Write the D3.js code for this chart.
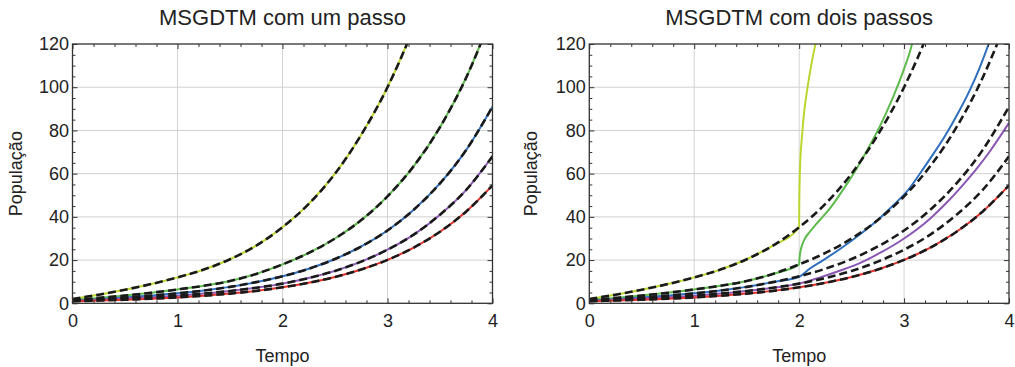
<!DOCTYPE html>
<html>
<head>
<meta charset="utf-8">
<script src="https://cdn.jsdelivr.net/npm/d3@7/dist/d3.min.js"></script>
<style>
  body { margin: 0; background: #fff; }
  text { font-family: "Liberation Sans", Arial, sans-serif; fill: #222; }
</style>
</head>
<body>
<svg id="chart" width="1015" height="367"></svg>
<script>
// tempo grid for the exact (dashed) solutions
var timeGrid = [0, 0.25, 0.5, 0.75, 1, 1.25, 1.5, 1.75, 2, 2.25, 2.5, 2.75, 3, 3.25, 3.5, 3.75, 4]

var exactYellow = [2, 4, 6.3, 8.9, 12, 15.6, 20.4, 26.7, 35.2, 46, 60, 78, 100, 128, 164, 210, 268]
var exactGreen  = [1.5, 2.5, 3.6, 4.9, 6.4, 8.1, 10.3, 13.6, 18, 23.3, 30, 38.5, 49.5, 63.5, 81.5, 104.5, 134]
var exactBlue   = [1.2, 1.9, 2.7, 3.6, 4.6, 5.9, 7.6, 9.8, 12.5, 16, 20.5, 26.3, 33.7, 43.3, 55.5, 71, 91]
var exactPurple = [1.1, 1.6, 2.2, 2.8, 3.5, 4.5, 5.7, 7.2, 9.1, 11.7, 15, 19.3, 24.8, 31.8, 41, 52.5, 68]
var exactRed    = [1, 1.28, 1.65, 2.12, 2.72, 3.49, 4.48, 5.75, 7.39, 9.49, 12.18, 15.64, 20.09, 25.79, 33.12, 42.52, 54.6]

// two-step MSGDTM, from t = 2 on (before that it follows the exact curve)
var twoStepYellow = [[2, 35.2], [2.001, 45], [2.004, 55], [2.011, 66], [2.025, 76], [2.04, 85], [2.065, 95], [2.09, 103], [2.12, 111.5], [2.16, 121]]
var twoStepGreen  = [[2, 18], [2.004, 21], [2.012, 24], [2.025, 26.5], [2.05, 29.5], [2.1, 33], [2.16, 36.5], [2.23, 40.3], [2.31, 45], [2.39, 50.5], [2.47, 56.3], [2.55, 62.5], [2.65, 71], [2.77, 82], [2.9, 96], [3.0, 108.5], [3.07, 119], [3.08, 121]]
var twoStepBlue   = [[2, 12.3], [2.1, 16], [2.23, 20], [2.4, 25.5], [2.55, 30.8], [2.77, 39.5], [2.9, 45.5], [3.04, 52.5], [3.2, 63.5], [3.41, 79], [3.52, 88.5], [3.63, 99], [3.72, 109], [3.81, 120.5]]
var twoStepPurple = [[2, 9.1], [2.2, 12], [2.4, 15.3], [2.55, 18], [2.77, 23.3], [3.0, 30], [3.25, 39.3], [3.4, 46.3], [3.57, 55.3], [3.7, 62.8], [3.82, 70.5], [4.0, 83.5]]

var xTicks = [0, 1, 2, 3, 4]
var yTicks = [0, 20, 40, 60, 80, 100, 120]

var colors = {yellow: "#bcd62e", green: "#5dba4c", blue: "#2f6fbd", purple: "#8a58b4", red: "#e3302a"}

var titles = ["MSGDTM com um passo", "MSGDTM com dois passos"]

function pairs(vals){
    return timeGrid.map(function(t, i){ return [t, vals[i]] })
}

function joined(vals, tail){
    // exact values before t=2, then the two-step values
    return pairs(vals).filter(function(d){ return d[0] < 2 }).concat(tail)
}

var exactSeries = [
    {color: colors.yellow, pts: pairs(exactYellow)},
    {color: colors.green,  pts: pairs(exactGreen)},
    {color: colors.blue,   pts: pairs(exactBlue)},
    {color: colors.purple, pts: pairs(exactPurple)},
    {color: colors.red,    pts: pairs(exactRed)}
]

var twoStepSeries = [
    {color: colors.yellow, pts: joined(exactYellow, twoStepYellow)},
    {color: colors.green,  pts: joined(exactGreen, twoStepGreen)},
    {color: colors.blue,   pts: joined(exactBlue, twoStepBlue)},
    {color: colors.purple, pts: joined(exactPurple, twoStepPurple)},
    {color: colors.red,    pts: pairs(exactRed)}
]

var svg = d3.select("#chart")
var plotTop = 44, plotBottom = 303.3

function drawPanel(idx, left, right, colored, labelX){
    var x = d3.scaleLinear().domain([0, 4]).range([left, right])
    var y = d3.scaleLinear().domain([0, 120]).range([plotBottom, plotTop])
    var g = svg.append("g")

    var clipId = "clip" + idx
    svg.append("clipPath").attr("id", clipId)
        .append("rect")
        .attr("x", left).attr("y", plotTop)
        .attr("width", right - left).attr("height", plotBottom - plotTop)

    // grid
    g.selectAll(".vg").data(xTicks.slice(1, -1)).enter().append("line")
        .attr("x1", d => x(d)).attr("x2", d => x(d))
        .attr("y1", plotTop).attr("y2", plotBottom)
        .attr("stroke", "#d4d4d4").attr("stroke-width", 1)
    g.selectAll(".hg").data(yTicks.slice(1, -1)).enter().append("line")
        .attr("x1", left).attr("x2", right)
        .attr("y1", d => y(d)).attr("y2", d => y(d))
        .attr("stroke", "#d0d0d0").attr("stroke-width", 1)

    var line = d3.line()
        .x(d => x(d[0]))
        .y(d => y(d[1]))
        .curve(d3.curveMonotoneX)

    var curves = g.append("g").attr("clip-path", "url(#" + clipId + ")")

    curves.selectAll(".col").data(colored).enter().append("path")
        .attr("d", d => line(d.pts))
        .attr("fill", "none")
        .attr("stroke", d => d.color)
        .attr("stroke-width", 2)

    curves.selectAll(".ex").data(exactSeries).enter().append("path")
        .attr("d", d => line(d.pts))
        .attr("fill", "none")
        .attr("stroke", "#1a1a1a")
        .attr("stroke-width", 2.6)
        .attr("stroke-dasharray", "8,4")

    // axes, ticks pointing inward
    var minorX = d3.range(0, 4.001, 0.2).filter(v => Math.abs(v - Math.round(v)) > 0.01)
    var minorY = d3.range(0, 120.1, 5).filter(v => v % 20 !== 0)

    var bx = g.append("g").attr("transform", "translate(0," + plotBottom + ")")
        .call(d3.axisBottom(x).tickValues(xTicks).tickSize(-5).tickPadding(11).tickFormat(d3.format("d")))
    var bxm = g.append("g").attr("transform", "translate(0," + plotBottom + ")")
        .call(d3.axisBottom(x).tickValues(minorX).tickSize(-3).tickFormat(""))
    var tx = g.append("g").attr("transform", "translate(0," + plotTop + ")")
        .call(d3.axisTop(x).tickValues(xTicks).tickSize(-5).tickFormat(""))
    var txm = g.append("g").attr("transform", "translate(0," + plotTop + ")")
        .call(d3.axisTop(x).tickValues(minorX).tickSize(-3).tickFormat(""))
    var ly = g.append("g").attr("transform", "translate(" + left + ",0)")
        .call(d3.axisLeft(y).tickValues(yTicks).tickSize(-5).tickPadding(3.5))
    var lym = g.append("g").attr("transform", "translate(" + left + ",0)")
        .call(d3.axisLeft(y).tickValues(minorY).tickSize(-3).tickFormat(""))
    var ry = g.append("g").attr("transform", "translate(" + right + ",0)")
        .call(d3.axisRight(y).tickValues(yTicks).tickSize(-5).tickFormat(""))
    var rym = g.append("g").attr("transform", "translate(" + right + ",0)")
        .call(d3.axisRight(y).tickValues(minorY).tickSize(-3).tickFormat(""))

    ;[bx, bxm, tx, txm, ly, lym, ry, rym].forEach(function(a){
        a.select(".domain").remove()
        a.selectAll("line").attr("stroke", "#333").attr("stroke-width", 1)
        a.selectAll("text").attr("font-size", 18).attr("fill", "#222")
            .style("font-family", "'Liberation Sans', Arial, sans-serif")
    })

    g.append("rect")
        .attr("x", left).attr("y", plotTop)
        .attr("width", right - left).attr("height", plotBottom - plotTop)
        .attr("fill", "none").attr("stroke", "#333").attr("stroke-width", 1.3)

    var mid = (left + right) / 2
    g.append("text").attr("x", mid).attr("y", 25)
        .attr("text-anchor", "middle").attr("font-size", 22)
        .text(titles[idx])
    g.append("text").attr("x", mid).attr("y", 361.5)
        .attr("text-anchor", "middle").attr("font-size", 18)
        .text("Tempo")
    g.append("text")
        .attr("transform", "translate(" + labelX + "," + ((plotTop + plotBottom) / 2) + ") rotate(-90)")
        .attr("text-anchor", "middle").attr("font-size", 18)
        .text("População")
}

drawPanel(0, 72.5, 492.5, exactSeries, 21.5)
drawPanel(1, 589.3, 1009, twoStepSeries, 537)
</script>
</body>
</html>
